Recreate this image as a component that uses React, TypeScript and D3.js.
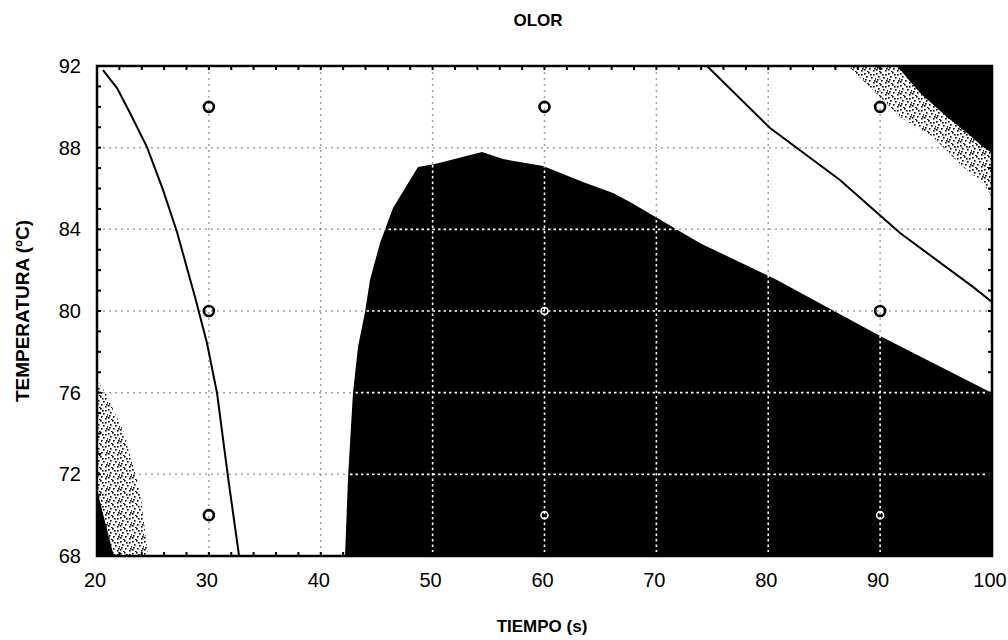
import React from "react";
import * as d3 from "d3";

const xTicks = [20, 30, 40, 50, 60, 70, 80, 90, 100];
const yTicks = [68, 72, 76, 80, 84, 88, 92];
const gridX = [30, 40, 50, 60, 70, 80, 90];
const gridY = [72, 76, 80, 84, 88];

// design points [tiempo, temperatura, inDark]
const designPoints: [number, number, boolean][] = [
  [30, 90, false], [60, 90, false], [90, 90, false],
  [30, 80, false], [60, 80, true], [90, 80, false],
  [30, 70, false], [60, 70, true], [90, 70, true],
];

// dark region (high level)
const darkRegion: [number, number][] = [
  [42.17, 68], [42.44, 71.87], [42.88, 75.98], [43.33, 78.24], [43.96, 79.95],
  [44.4, 81.52], [45.3, 83.33], [46.46, 85.05], [48.69, 87.05], [50.21, 87.2],
  [54.41, 87.79], [56.29, 87.44], [59.87, 87.1], [63.44, 86.32], [66.12, 85.78],
  [67.64, 85.34], [74.0, 83.3], [80.78, 81.52], [90.17, 78.73], [100, 75.98], [100, 68],
];
const darkCornerTR: [number, number][] = [
  [91.51, 92], [93.57, 90.68], [95.98, 89.5], [97.77, 88.72], [99.2, 88.03], [100, 87.74], [100, 92],
];
const darkCornerBL: [number, number][] = [
  [20, 71.23], [21.43, 68.15], [21.6, 68], [20, 68],
];
const stippleTR: [number, number][] = [
  [87.13, 92], [89.36, 90.82], [91.78, 89.5], [94.73, 88.52], [97.41, 87.05], [99.2, 86.27], [100, 85.58], [100, 92],
];
const stippleBL: [number, number][] = [
  [20, 76.62], [20.72, 76.03], [22.32, 74.17], [23.84, 71.23], [24.56, 68], [20, 68],
];
const contourLeft: [number, number][] = [
  [20.54, 91.8], [21.79, 90.92], [22.95, 89.7], [24.47, 88.03], [25.9, 85.93],
  [27.15, 83.87], [28.76, 80.69], [29.83, 78.43], [30.73, 75.98], [31.71, 71.87], [32.7, 68],
];
const contourRight: [number, number][] = [
  [74.53, 92], [80.16, 88.96], [86.41, 86.42], [91.78, 83.82], [98.3, 81.18], [100, 80.44],
];

const left = 97, right = 992, top = 66, bottom = 556;
const FONT = "Arial, 'Liberation Sans', sans-serif";

// deterministic stipple texture cells within a 12x12 tile
const stippleDots: [number, number][] = [
  [0, 1], [4, 0], [9, 2], [2, 4], [7, 5], [11, 6], [5, 8], [0, 9], [9, 10], [3, 11], [6, 2], [10, 8], [1, 7],
];

export default function App() {
  const x = d3.scaleLinear().domain([20, 100]).range([left, right]);
  const y = d3.scaleLinear().domain([68, 92]).range([bottom, top]);
  const line = d3.line<[number, number]>().x(d => x(d[0])).y(d => y(d[1]));
  const poly = (pts: [number, number][]) => line(pts) + "Z";

  const minorX = d3.range(20, 100.01, 2);
  const minorY = d3.range(68, 92.01, 1);

  return (
    <svg width={1008} height={640} style={{ position: "absolute", left: 0, top: 0, background: "#fff" }}>
      <defs>
        <pattern id="stip" width={12} height={12} patternUnits="userSpaceOnUse">
          {stippleDots.map((d, i) => (
            <rect key={i} x={d[0]} y={d[1]} width={1.6} height={1.6} fill="#000" />
          ))}
        </pattern>
        <clipPath id="darkClip">
          <path d={poly(darkRegion)} />
        </clipPath>
        <clipPath id="plotClip">
          <rect x={left} y={top} width={right - left} height={bottom - top} />
        </clipPath>
      </defs>

      <g clipPath="url(#plotClip)">
        <path d={poly(stippleTR)} fill="url(#stip)" />
        <path d={poly(stippleBL)} fill="url(#stip)" />
        {/* grid in light area */}
        {gridX.map(v => (
          <line key={"gx" + v} x1={x(v)} x2={x(v)} y1={top} y2={bottom} stroke="#333" strokeWidth={1.5} strokeDasharray="2,4" opacity={0.45} />
        ))}
        {gridY.map(v => (
          <line key={"gy" + v} x1={left} x2={right} y1={y(v)} y2={y(v)} stroke="#333" strokeWidth={1.5} strokeDasharray="2,4" opacity={0.45} />
        ))}
        <path d={poly(darkRegion)} fill="#000" />
        <path d={poly(darkCornerTR)} fill="#000" />
        <path d={poly(darkCornerBL)} fill="#000" />
        {/* grid in dark area */}
        <g clipPath="url(#darkClip)">
          {gridX.map(v => (
            <line key={"wx" + v} x1={x(v)} x2={x(v)} y1={top} y2={bottom} stroke="#fff" strokeWidth={1.6} strokeDasharray="2.5,3" />
          ))}
          {gridY.map(v => (
            <line key={"wy" + v} x1={left} x2={right} y1={y(v)} y2={y(v)} stroke="#fff" strokeWidth={1.6} strokeDasharray="2.5,3" />
          ))}
        </g>
        <path d={line(contourLeft) || ""} fill="none" stroke="#000" strokeWidth={2} />
        <path d={line(contourRight) || ""} fill="none" stroke="#000" strokeWidth={2} />
        {designPoints.map((p, i) => (
          <circle key={i} cx={x(p[0])} cy={y(p[1])} r={p[2] ? 3.5 : 5}
            fill="none" stroke={p[2] ? "#fff" : "#000"} strokeWidth={p[2] ? 1.6 : 2.6} />
        ))}
      </g>

      {/* minor ticks on all four sides */}
      {minorX.map(v => (
        <g key={"tx" + v}>
          <line x1={x(v)} x2={x(v)} y1={bottom} y2={bottom - 4} stroke="#000" strokeWidth={2} />
          <line x1={x(v)} x2={x(v)} y1={top} y2={top + 4} stroke="#000" strokeWidth={2} />
        </g>
      ))}
      {minorY.map(v => (
        <g key={"ty" + v}>
          <line x1={left} x2={left + 4} y1={y(v)} y2={y(v)} stroke="#000" strokeWidth={2} />
          <line x1={right} x2={right - 4} y1={y(v)} y2={y(v)} stroke="#000" strokeWidth={2} />
        </g>
      ))}
      <rect x={left} y={top} width={right - left} height={bottom - top} fill="none" stroke="#000" strokeWidth={2.5} />

      {xTicks.map(v => (
        <text key={"xl" + v} x={x(v) - 2} y={587} textAnchor="middle" fontFamily={FONT} fontSize={20}>{v}</text>
      ))}
      {yTicks.map(v => (
        <text key={"yl" + v} x={81} y={y(v) + 7} textAnchor="end" fontFamily={FONT} fontSize={20}>{v}</text>
      ))}

      <text x={538} y={26} textAnchor="middle" fontFamily={FONT} fontSize={17} fontWeight="bold">OLOR</text>
      <text x={542} y={632} textAnchor="middle" fontFamily={FONT} fontSize={17} fontWeight="bold">TIEMPO (s)</text>
      <text transform="translate(29,311) rotate(-90)" textAnchor="middle" fontFamily={FONT} fontSize={19} fontWeight="bold">TEMPERATURA (ºC)</text>
    </svg>
  );
}
